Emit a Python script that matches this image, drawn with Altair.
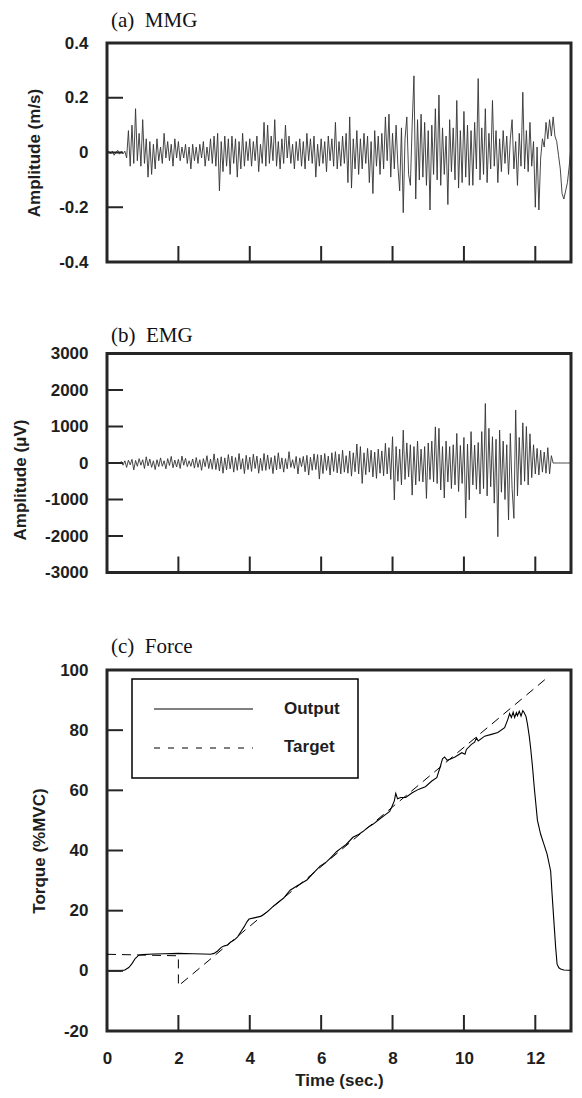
import altair as alt
import pandas as pd

# ---------------- data ----------------
SAMPLE_STEP = 0.05  # s, sampling grid of the digitised MMG / EMG traces

mmg_values = [
    0.0, 0.005, -0.005, 0.005, -0.01, 0.0, 0.008, -0.006, 0.004, -0.005,
    0.005, -0.02, 0.08, -0.05, 0.10, -0.04, 0.16, -0.03, 0.07, -0.05,
    0.12, -0.04, 0.05, -0.09, 0.04, -0.08, 0.03, -0.06, 0.05, -0.03,
    0.02, -0.04, 0.07, -0.02, 0.04, -0.03, 0.03, -0.05, 0.05, -0.02,
    0.04, -0.03, 0.02, -0.02, 0.03, -0.04, 0.02, -0.06, 0.03, -0.03,
    0.02, -0.04, 0.03, -0.02, 0.04, -0.05, 0.02, -0.03, 0.05, -0.04,
    0.06, -0.05, 0.07, -0.14, 0.04, -0.07, 0.06, -0.05, 0.05, -0.08,
    0.06, -0.04, 0.05, -0.09, 0.04, -0.06, 0.07, -0.05, 0.04, -0.03,
    0.05, -0.05, 0.04, -0.03, 0.06, -0.07, 0.03, -0.04, 0.11, -0.05,
    0.10, -0.04, 0.06, -0.03, 0.12, -0.05, 0.04, -0.06, 0.05, -0.04,
    0.10, -0.02, 0.06, -0.04, 0.03, -0.06, 0.04, -0.03, 0.05, -0.05,
    0.04, -0.06, 0.07, -0.03, 0.05, -0.04, 0.06, -0.09, 0.03, -0.05,
    0.05, -0.04, 0.04, -0.07, 0.06, -0.03, 0.05, -0.05, 0.11, -0.06,
    0.04, -0.05, 0.06, -0.04, 0.07, -0.11, 0.13, -0.13, 0.05, -0.06,
    0.08, -0.08, 0.05, -0.06, 0.07, -0.04, 0.06, -0.11, 0.04, -0.15,
    0.08, -0.05, 0.06, -0.08, 0.07, -0.06, 0.13, -0.03, 0.14, -0.09,
    0.07, -0.06, 0.10, -0.05, -0.14, 0.09, -0.22, 0.05, 0.13, -0.08,
    -0.12, 0.10, 0.28, -0.17, 0.12, -0.10, 0.14, -0.09, 0.11, -0.12,
    0.08, -0.21, 0.10, -0.08, 0.16, -0.10, 0.21, -0.12, 0.09, -0.08,
    0.06, -0.19, 0.12, -0.07, 0.09, -0.10, 0.19, -0.13, 0.08, -0.11,
    0.15, -0.09, 0.10, -0.12, 0.08, -0.12, 0.11, -0.06, 0.27, -0.10,
    0.09, -0.08, 0.16, -0.11, 0.07, -0.06, 0.19, -0.05, 0.08, -0.11,
    0.05, -0.07, 0.08, -0.04, 0.06, -0.08, 0.05, 0.12, -0.06, 0.04,
    -0.12, 0.07, -0.05, 0.22, -0.06, 0.08, -0.07, 0.11, -0.05, 0.04,
    -0.20, 0.02, -0.21, -0.02, 0.05, 0.02, 0.11, 0.05, 0.12, 0.06,
    0.13, 0.06, 0.04, -0.01, -0.06, -0.15, -0.17, -0.14, -0.11, -0.05,
    0.02,
]

emg_values = [
    0, 0, 5, -5, 0, 0, 10, -10, 40, -60,
    60, -120, 80, -50, 100, -190, 70, -90, 120, -60,
    90, -150, 170, -80, 110, -120, 60, -180, 90, -100,
    140, -90, 60, -160, 120, -70, 180, -130, 80, -110,
    100, -150, 190, -60, 130, -100, 60, -90, 110, -140,
    150, -120, 90, -200, 120, -100, 200, -150, 110, -170,
    250, -180, 130, -220, 170, -280, 140, -190, 230, -160,
    190, -250, 150, -200, 260, -170, 120, -290, 210, -180,
    160, -230, 240, -150, 190, -280, 130, -210, 260, -200,
    220, -170, 150, -290, 200, -190, 280, -160, 140, -250,
    120, -160, 310, -120, 90, -150, 180, -300, 140, -100,
    180, -240, 210, -330, 160, -200, 250, -180, 230, -440,
    220, -290, 260, -200, 190, -330, 280, -230, 310, -270,
    240, -300, 350, -250, 200, -280, 330, -360, 280, -240,
    520, -300, 450, -560, 280, -320, 400, -250, 350, -380,
    300, -420, 380, -280, 330, -350, 540, -300, 420, -450,
    720, -1010, 450, -500, 380, -600, 900, -450, 550, -380,
    500, -880, 450, -600, 600, -500, 380, -520, 450, -970,
    550, -450, 600, -520, 990, -560, 950, -740, 450, -960,
    600, -520, 450, -700, 500, -600, 810, -780, 480, -560,
    700, -1510, 520, -1010, 860, -600, 490, -720, 560, -850,
    860, -700, 1630, -900, 950, -650, 720, -1100, 650, -2020,
    900, -800, 600, -1000, 500, -1560, 810, -700, -1515, 1450,
    -900, 700, -600, 1100, -500, 1000, -600, 800, -400, 500,
    -300, 400, -330, 350, -250, 300, -280, 420, -300, 200,
    0, 0, 0, 0, 0, 0, 0, 0, 0, 0,
    0,
]

force_t = [0.0, 0.38, 0.5, 0.61, 0.7, 0.79, 0.89, 1.0, 1.3, 1.6, 2.0, 2.4, 2.7, 2.9,
           3.0, 3.1, 3.2, 3.29, 3.38, 3.47, 3.56, 3.66, 3.75, 3.84, 3.92, 3.98, 4.12,
           4.3, 4.49, 4.67, 4.8, 4.95, 5.13, 5.32, 5.46, 5.6, 5.74, 5.97, 6.15, 6.3,
           6.43, 6.56, 6.7, 6.89, 7.03, 7.17, 7.3, 7.45, 7.63, 7.81, 7.92, 7.99, 8.05,
           8.09, 8.14, 8.23, 8.37, 8.55, 8.74, 8.92, 9.1, 9.24, 9.33, 9.4, 9.46, 9.53,
           9.61, 9.75, 9.94, 10.03, 10.07, 10.21, 10.3, 10.35, 10.4, 10.58, 10.77,
           10.95, 11.14, 11.23, 11.28, 11.33, 11.38, 11.42, 11.47, 11.5, 11.55, 11.6,
           11.65, 11.69, 11.74, 11.78, 11.83, 11.87, 11.92, 11.97, 12.06, 12.15,
           12.24, 12.33, 12.43, 12.47, 12.52, 12.57, 12.61, 12.66, 12.71, 12.8,
           12.94, 13.0]
force_v = [0.0, 0.0, 0.3, 1.1, 2.4, 4.1, 5.2, 5.4, 5.6, 5.7, 5.8, 5.7, 5.6, 5.5,
           5.8, 6.6, 7.8, 8.3, 8.6, 9.6, 10.2, 11.3, 13.0, 14.6, 16.3, 17.2, 17.6,
           18.1, 19.6, 21.6, 22.8, 24.2, 26.8, 28.2, 29.2, 30.2, 32.0, 34.8, 36.2,
           38.0, 39.6, 40.8, 42.0, 44.4, 45.2, 46.3, 47.6, 48.7, 50.4, 52.0, 53.0,
           54.8, 56.5, 59.0, 57.2, 57.6, 57.6, 59.2, 60.4, 61.2, 63.1, 64.2, 67.6,
           70.5, 71.1, 70.0, 70.3, 71.1, 72.5, 72.0, 73.6, 75.3, 76.0, 77.5, 76.4,
           78.0, 78.6, 79.2, 80.8, 83.6, 85.5, 84.2, 86.0, 84.2, 85.8, 84.8, 86.3,
           84.7, 86.5, 85.8, 84.5, 82.0, 78.0, 74.0, 68.0, 61.0, 50.0, 45.4, 42.1,
           38.8, 33.2, 25.5, 16.6, 7.8, 2.2, 1.0, 0.6, 0.3, 0.2, 0.2]

target_t = [0.0, 2.0, 2.0, 12.36]
target_v = [5.5, 5.0, -5.0, 97.7]

legend_items = ["Output", "Target"]
time_labels = [0, 2, 4, 6, 8, 10, 12]
x_tick_marks = [2, 4, 6, 8, 10, 12]
mmg_labels = [0.4, 0.2, 0, -0.2, -0.4]
emg_labels = [3000, 2000, 1000, 0, -1000, -2000, -3000]
force_labels = [100, 80, 60, 40, 20, 0, -20]

# ---------------- style ----------------
INK = "#262626"
SANS = "Liberation Sans"
SERIF = "Liberation Serif"
W = 464
H_SIG = 219
H_FORCE = 361
TICK = 16

times = [round(i * SAMPLE_STEP, 2) for i in range(len(mmg_values))]
xscale = alt.Scale(domain=[0, 13], nice=False, zero=False)


def y_axis(values, title, pad, title_y=None):
    kw = dict(values=values, title=title, ticks=False, tickSize=0, domain=False,
              grid=False, labelExpr="'' + datum.value", labelPadding=19,
              titlePadding=pad, labelFlush=False, labelOverlap=False)
    if title_y is not None:
        kw["titleY"] = title_y
    return alt.Axis(**kw)


def tick_layers(y_inner, yscale, yaxis, xaxis, h):
    left = alt.Chart(pd.DataFrame({"v": y_inner})).mark_rule(
        color=INK, strokeWidth=2).encode(
        y=alt.Y("v:Q", scale=yscale, axis=yaxis),
        x=alt.value(0), x2=alt.value(TICK))
    bottom = alt.Chart(pd.DataFrame({"t": x_tick_marks})).mark_rule(
        color=INK, strokeWidth=2).encode(
        x=alt.X("t:Q", scale=xscale, axis=xaxis),
        y=alt.value(h), y2=alt.value(h - TICK))
    return [left, bottom]


def panel_title(text, offset, dy=0):
    return alt.TitleParams(text=text, anchor="start", frame="group", dx=4, dy=dy,
                           offset=offset, font=SERIF,
                           fontSize=21, fontWeight="normal", color="#111111")


# ---- (a) MMG ----
ys_a = alt.Scale(domain=[-0.4, 0.4], nice=False, zero=False)
ax_a = y_axis(mmg_labels, "Amplitude (m/s)", 15)
line_a = alt.Chart(pd.DataFrame({"t": times, "v": mmg_values})).mark_line(
    color="#333333", strokeWidth=0.9, clip=True).encode(
    x=alt.X("t:Q", scale=xscale, axis=None),
    y=alt.Y("v:Q", scale=ys_a, axis=ax_a))
panel_a = alt.layer(line_a, *tick_layers([0.2, 0, -0.2], ys_a, ax_a, None, H_SIG)).properties(
    width=W, height=H_SIG, title=panel_title("(a)\u00a0 MMG", 3.5))

# ---- (b) EMG ----
ys_b = alt.Scale(domain=[-3000, 3000], nice=False, zero=False)
ax_b = y_axis(emg_labels, "Amplitude (\u03bcV)", 15, title_y=126)
line_b = alt.Chart(pd.DataFrame({"t": times, "v": emg_values})).mark_line(
    color="#333333", strokeWidth=0.9, clip=True).encode(
    x=alt.X("t:Q", scale=xscale, axis=None),
    y=alt.Y("v:Q", scale=ys_b, axis=ax_b))
panel_b = alt.layer(line_b, *tick_layers([2000, 1000, 0, -1000, -2000], ys_b, ax_b, None, H_SIG)).properties(
    width=W, height=H_SIG, title=panel_title("(b)\u00a0 EMG", 0, 1.5))

# ---- (c) Force ----
ys_c = alt.Scale(domain=[-20, 100], nice=False, zero=False)
ax_c = y_axis(force_labels, "Torque (%MVC)", 11)
ax_t = alt.Axis(values=time_labels, title="Time (sec.)", ticks=False, tickSize=0,
                domain=False, grid=False, labelPadding=19, titlePadding=6,
                labelFlush=False, labelOverlap=False)
out_df = pd.DataFrame({"t": force_t, "v": force_v, "i": range(len(force_t))})
tgt_df = pd.DataFrame({"t": target_t, "v": target_v, "i": range(len(target_t))})
line_out = alt.Chart(out_df).mark_line(color="black", strokeWidth=1.1, clip=True).encode(
    x=alt.X("t:Q", scale=xscale, axis=ax_t),
    y=alt.Y("v:Q", scale=ys_c, axis=ax_c),
    order=alt.Order("i:Q"))
line_tgt = alt.Chart(tgt_df).mark_line(color="black", strokeWidth=1.0,
                                       strokeDash=[9, 6], clip=True).encode(
    x=alt.X("t:Q", scale=xscale, axis=ax_t),
    y=alt.Y("v:Q", scale=ys_c, axis=ax_c),
    order=alt.Order("i:Q"))

one = pd.DataFrame({"k": [0]})
leg_box = alt.Chart(one).mark_rect(fill="white", stroke="black", strokeWidth=1.5).encode(
    x=alt.value(25), x2=alt.value(251), y=alt.value(9), y2=alt.value(108))
leg_solid = alt.Chart(one).mark_rule(color="black", strokeWidth=1.0).encode(
    x=alt.value(47), x2=alt.value(146), y=alt.value(39))
leg_dash = alt.Chart(one).mark_rule(color="black", strokeWidth=1.0, strokeDash=[6, 8]).encode(
    x=alt.value(47), x2=alt.value(146), y=alt.value(78))
leg_txt1 = alt.Chart(pd.DataFrame({"label": [legend_items[0]]})).mark_text(
    align="left", baseline="middle", font=SANS, fontSize=17, fontWeight="bold",
    color="#1e1e1e").encode(x=alt.value(177), y=alt.value(39), text="label:N")
leg_txt2 = alt.Chart(pd.DataFrame({"label": [legend_items[1]]})).mark_text(
    align="left", baseline="middle", font=SANS, fontSize=17, fontWeight="bold",
    color="#1e1e1e").encode(x=alt.value(177), y=alt.value(77), text="label:N")

panel_c = alt.layer(
    line_out, line_tgt, leg_box, leg_solid, leg_dash, leg_txt1, leg_txt2,
    *tick_layers([80, 60, 40, 20, 0], ys_c, ax_c, ax_t, H_FORCE)
).properties(width=W, height=H_FORCE, title=panel_title("(c)\u00a0 Force", 4.5))

chart = alt.vconcat(panel_a, panel_b, panel_c, spacing=51.5).properties(
    padding={"left": 2, "top": 0, "right": 0, "bottom": 0}
).configure_view(
    stroke=INK, strokeWidth=3
).configure_axis(
    labelFont=SANS, labelFontSize=17, labelFontWeight="bold", labelColor="#1e1e1e",
    titleFont=SANS, titleFontSize=17, titleFontWeight="bold", titleColor="#1e1e1e"
)

chart.save("out.html", embed_options={"renderer": "svg", "actions": False})
